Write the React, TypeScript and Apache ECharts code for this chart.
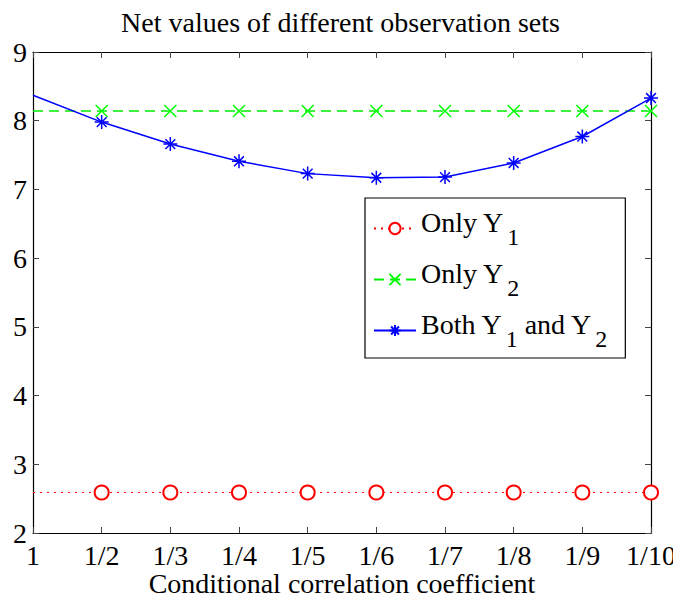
import React, { useEffect, useRef } from "react";
import * as echarts from "echarts";

const categories = ["1", "1/2", "1/3", "1/4", "1/5", "1/6", "1/7", "1/8", "1/9", "1/10"];
const onlyY1 = [2.59, 2.59, 2.59, 2.59, 2.59, 2.59, 2.59, 2.59, 2.59, 2.59];
const onlyY2 = [8.14, 8.14, 8.14, 8.14, 8.14, 8.14, 8.14, 8.14, 8.14, 8.14];
const bothY = [8.37, 7.98, 7.66, 7.41, 7.23, 7.17, 7.18, 7.385, 7.77, 8.33];
const seriesNames = ["Only Y1", "Only Y2", "Both Y1 and Y2"];
const yTicks = { min: 2, max: 9, interval: 1 };

const FONT = "'Liberation Serif', 'Times New Roman', Times, serif";

const withoutFirstMarker = (arr: number[]) =>
  arr.map((v, i) => (i === 0 ? { value: v, symbol: "none" } : v));

const legendLabels: Record<string, string> = {
  "Only Y1": "{t|Only Y}{s|1}",
  "Only Y2": "{t|Only Y}{s|2}",
  "Both Y1 and Y2": "{t|Both Y}{s|1}{t| and Y}{s|2}",
};

export default function App() {
  const ref = useRef<HTMLDivElement>(null);
  useEffect(() => {
    if (!ref.current) return;
    const chart = echarts.init(ref.current, undefined, { renderer: "svg" });
    const axisCommon = {
      axisLine: { show: true, lineStyle: { color: "#000", width: 1.2 } },
      splitLine: { show: false },
    };
    chart.setOption({
      animation: false,
      backgroundColor: "#fff",
      textStyle: { fontFamily: FONT },
      title: {
        text: "Net values of different observation sets",
        left: "center",
        top: 3,
        textStyle: { fontFamily: FONT, fontSize: 28, fontWeight: "normal", color: "#000" },
      },
      grid: { left: 33, right: 30, top: 52, bottom: 67, outerBoundsMode: "none", containLabel: false },
      xAxis: [
        {
          type: "category",
          data: categories,
          boundaryGap: false,
          position: "bottom",
          ...axisCommon,
          axisTick: { show: true, inside: true, length: 6, lineStyle: { color: "#444" } },
          axisLabel: { fontFamily: FONT, fontSize: 28, lineHeight: 24, color: "#000", margin: 10, interval: 0 },
          name: "Conditional correlation coefficient",
          nameLocation: "middle",
          nameGap: 38,
          nameMoveOverlap: false,
          nameTextStyle: { fontFamily: FONT, fontSize: 28, lineHeight: 24, color: "#000" },
        },
        {
          type: "category",
          data: categories,
          boundaryGap: false,
          position: "top",
          ...axisCommon,
          axisTick: { show: true, inside: true, length: 6, lineStyle: { color: "#444" } },
          axisLabel: { show: false },
        },
      ],
      yAxis: [
        {
          type: "value",
          min: yTicks.min,
          max: yTicks.max,
          interval: yTicks.interval,
          position: "left",
          ...axisCommon,
          axisTick: { show: true, inside: true, length: 6, lineStyle: { color: "#444" } },
          axisLabel: { fontFamily: FONT, fontSize: 28, color: "#000", margin: 6 },
        },
        {
          type: "value",
          min: yTicks.min,
          max: yTicks.max,
          interval: yTicks.interval,
          position: "right",
          ...axisCommon,
          axisTick: { show: true, inside: true, length: 6, lineStyle: { color: "#444" } },
          axisLabel: { show: false },
        },
      ],
      legend: {
        orient: "vertical",
        left: 365,
        top: 198,
        itemWidth: 42,
        itemHeight: 14,
        itemGap: 10,
        padding: [10, 18, 7, 8],
        borderColor: "#000",
        borderWidth: 1.2,
        backgroundColor: "#fff",
        data: seriesNames,
        formatter: (name: string) => legendLabels[name],
        textStyle: {
          fontFamily: FONT,
          color: "#000",
          rich: {
            t: { fontFamily: FONT, fontSize: 28, color: "#000", lineHeight: 28, padding: [0, 0, 13, 0] },
            s: { fontFamily: FONT, fontSize: 24, color: "#000", lineHeight: 24, padding: [17, 0, 0, 3] },
          },
        },
      },
      series: [
        {
          name: "Only Y1",
          type: "line",
          data: withoutFirstMarker(onlyY1),
          symbol: "emptyCircle",
          symbolSize: 14,
          showAllSymbol: true,
          itemStyle: { color: "#ff0000", borderColor: "#ff0000", borderWidth: 1.3 },
          lineStyle: { color: "#ff0000", width: 1, type: [2, 5] },
        },
        {
          name: "Only Y2",
          type: "line",
          data: withoutFirstMarker(onlyY2),
          symbol: "path://M0,0L10,10M10,0L0,10",
          symbolSize: 12,
          showAllSymbol: true,
          itemStyle: { color: "#00ff00", borderColor: "#00ff00", borderWidth: 1.5 },
          lineStyle: { color: "#00ee00", width: 1.5, type: [10, 6] },
        },
        {
          name: "Both Y1 and Y2",
          type: "line",
          data: withoutFirstMarker(bothY),
          symbol: "path://M5,0L5,10M0,5L10,5M1.5,1.5L8.5,8.5M8.5,1.5L1.5,8.5",
          symbolSize: 14,
          showAllSymbol: true,
          itemStyle: { color: "#0000ff", borderColor: "#0000ff", borderWidth: 1.5 },
          lineStyle: { color: "#0000ff", width: 1.5 },
        },
      ],
    });
    return () => chart.dispose();
  }, []);
  return <div ref={ref} style={{ width: 681, height: 600, marginLeft: -8, marginTop: -8 }} />;
}
